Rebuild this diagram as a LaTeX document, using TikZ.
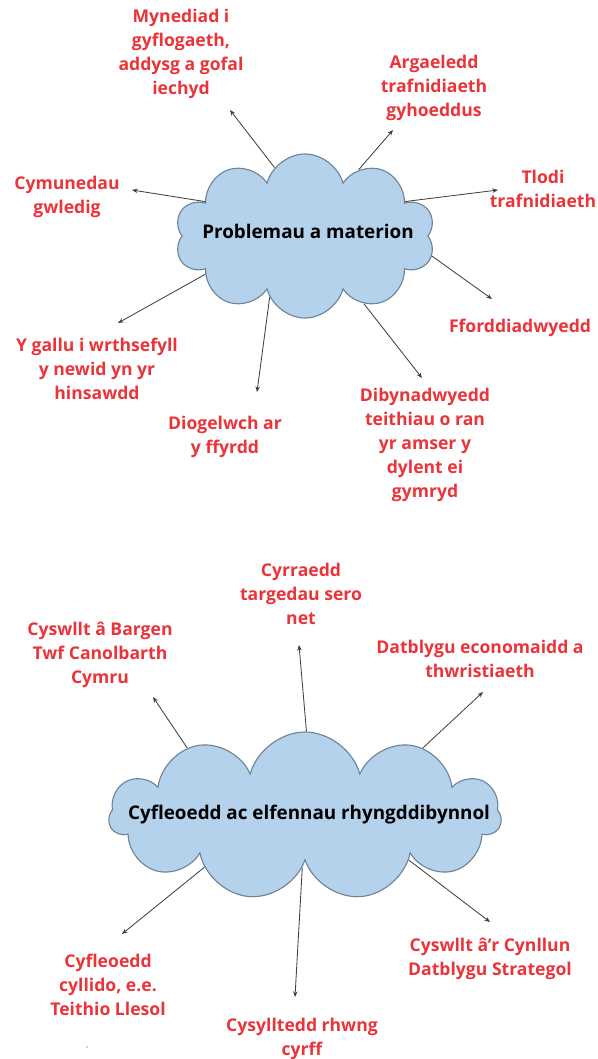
\documentclass[tikz,border=0pt]{standalone}
\usepackage{fontspec}
\setmainfont{Open Sans}
\usetikzlibrary{shapes.symbols,arrows.meta}
\definecolor{labred}{RGB}{234,52,58}
\definecolor{cloudblue}{RGB}{180,210,235}
\definecolor{cloudedge}{RGB}{112,132,152}
\definecolor{arrgray}{RGB}{64,64,64}
\tikzset{
  lbl/.style={text=labred, font=\fontsize{12.5}{17}\selectfont\bfseries, align=center, inner sep=0pt},
  arr/.style={draw=arrgray, line width=0.6pt, -{Stealth[length=4pt,width=3.2pt]}},
  cloudbox/.style={cloud, cloud puffs=10, cloud ignores aspect, fill=cloudblue, draw=cloudedge,
    line width=0.8pt, inner sep=0pt},
  cloudtxt/.style={font=\fontsize{13.4}{17}\selectfont\bfseries, inner sep=0pt},
}
\begin{document}
\begin{tikzpicture}[x=0.025cm,y=-0.025cm]
      \useasboundingbox (0,0) rectangle (598,1059);

      % top cloud
      \node[cloudbox, minimum width=6.5cm, minimum height=4.1cm] (prob) at (305,236) {};
      \node[cloudtxt] (probtxt) at (308,231) {Problemau a materion};

      \node[lbl] (myn) at (181,54) {Mynediad i\\gyflogaeth,\\addysg a gofal\\iechyd};
      \node[lbl] (arg) at (434,88) {Argaeledd\\trafnidiaeth\\gyhoeddus};
      \node[lbl] (cym) at (67,197) {Cymunedau\\gwledig};
      \node[lbl] (tlo) at (543,189) {Tlodi\\trafnidiaeth};
      \node[lbl] (gal) at (97,369) {Y gallu i wrthsefyll\\y newid yn yr\\hinsawdd};
      \node[lbl] (dio) at (225,437) {Diogelwch ar\\y ffyrdd};
      \node[lbl] (ffo) at (520,328) {Fforddiadwyedd};
      \node[lbl] (dib) at (425,445) {Dibynadwyedd\\teithiau o ran\\yr amser y\\dylent ei\\gymryd};

      \coordinate (myntip) at (230,110);
      \coordinate (argtip) at (393,130);
      \coordinate (cymtip) at (132,190);
      \coordinate (tlotip) at (498,190);
      \coordinate (galtip) at (118,323);
      \coordinate (diotip) at (257,392);
      \coordinate (ffotip) at (492,299);
      \coordinate (dibtip) at (422,378);

      \foreach \a/\t in {114/myn,51/arg,161/cym,19/tlo,201/gal,240/dio,351/ffo,311/dib} {
        \draw[arr] (prob.\a) -- (\t tip);
      }

      % bottom cloud
      \node[cloudbox, cloud puffs=11, minimum width=9.8cm, minimum height=4.2cm] (cyf) at (305,816) {};
      \node[cloudtxt] (cyftxt) at (309,815) {Cyfleoedd ac elfennau rhyngddibynnol};

      \node[lbl] (cyr) at (301,594) {Cyrraedd\\targedau sero\\net};
      \node[lbl] (bar) at (100,655) {Cyswllt â Bargen\\Twf Canolbarth\\Cymru};
      \node[lbl] (dat) at (480,659) {Datblygu economaidd a\\thwristiaeth};
      \node[lbl] (cyl) at (108,985) {Cyfleoedd\\cyllido, e.e.\\Teithio Llesol};
      \node[lbl] (cys) at (302,1039) {Cysylltedd rhwng\\cyrff};
      \node[lbl] (cyn) at (490,959) {Cyswllt â’r Cynllun\\Datblygu Strategol};

      \coordinate (cyrtip) at (299,645);
      \coordinate (bartip) at (153,697);
      \coordinate (dattip) at (483,692);
      \coordinate (cyltip) at (122,934);
      \coordinate (cystip) at (295,997);
      \coordinate (cyntip) at (490,922);

      \foreach \a/\t in {89/cyr,150/bar,30/dat,207/cyl,267/cys,337/cyn} {
        \draw[arr] (cyf.\a) -- (\t tip);
      }

      \fill[labred!60] (87,1047) circle[radius=0.6pt];
\end{tikzpicture}
\end{document}
